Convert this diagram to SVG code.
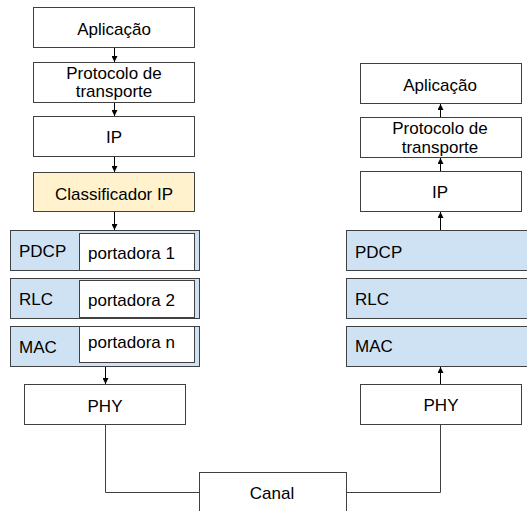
<svg xmlns="http://www.w3.org/2000/svg" width="527" height="511" viewBox="0 0 527 511">
<style>
.box{fill:#fff;stroke:#404040;stroke-width:1}
.blue{fill:#cfe2f3;stroke:#404040;stroke-width:1}
.yel{fill:#fff2cc;stroke:#404040;stroke-width:1}
text{font-family:"Liberation Sans",Arial,sans-serif;font-size:17px;fill:#000}
.c{text-anchor:middle}
.ln{fill:none;stroke:#000;stroke-width:1}
.ln2{fill:none;stroke:#404040;stroke-width:1}
</style>
<defs>
<marker id="ah" viewBox="0 0 8 8" refX="8" refY="4" markerWidth="6" markerHeight="6" markerUnits="userSpaceOnUse" orient="auto">
<path d="M0,0 L8,4 L0,8 z" fill="#000"/>
</marker>
</defs>
<rect width="527" height="511" fill="#fff"/>
<g id="l-app"><rect class="box" x="33.5" y="7.5" width="161" height="40"/><text class="c" x="114" y="35">Aplicação</text></g>
<g id="l-trans"><rect class="box" x="33.5" y="62.5" width="161" height="40"/><text class="c" x="114" y="78.5">Protocolo de</text><text class="c" x="114" y="96.5">transporte</text></g>
<g id="l-ip"><rect class="box" x="33.5" y="116.5" width="161" height="40"/><text class="c" x="114" y="143">IP</text></g>
<g id="l-class"><rect class="yel" x="33.5" y="172.5" width="161" height="39"/><text class="c" x="114" y="200">Classificador IP</text></g>
<g id="l-pdcp"><rect class="blue" x="10.5" y="230.5" width="189" height="40"/><rect class="box" x="79.5" y="233.5" width="115" height="37"/><text x="19" y="257">PDCP</text><text x="88" y="259">portadora 1</text></g>
<g id="l-rlc"><rect class="blue" x="10.5" y="278.5" width="189" height="40"/><rect class="box" x="79.5" y="280.5" width="115" height="37"/><text x="19" y="305">RLC</text><text x="88" y="306">portadora 2</text></g>
<g id="l-mac"><rect class="blue" x="10.5" y="326.5" width="189" height="40"/><rect class="box" x="79.5" y="326.5" width="115" height="36"/><text x="19" y="353">MAC</text><text x="88" y="348">portadora n</text></g>
<g id="l-phy"><rect class="box" x="24.5" y="384.5" width="161" height="40"/><text class="c" x="105" y="412">PHY</text></g>
<g id="canal"><rect class="box" x="199.5" y="472.5" width="147" height="45"/><text class="c" x="272" y="499">Canal</text></g>
<g id="r-app"><rect class="box" x="360.5" y="63.5" width="161" height="40"/><text class="c" x="440" y="91">Aplicação</text></g>
<g id="r-trans"><rect class="box" x="360.5" y="117.5" width="161" height="40"/><text class="c" x="440" y="134">Protocolo de</text><text class="c" x="440" y="152.5">transporte</text></g>
<g id="r-ip"><rect class="box" x="360.5" y="171.5" width="161" height="40"/><text class="c" x="440" y="198">IP</text></g>
<g id="r-pdcp"><rect class="blue" x="346.5" y="230.5" width="190" height="40"/><text x="355" y="258">PDCP</text></g>
<g id="r-rlc"><rect class="blue" x="346.5" y="278.5" width="190" height="40"/><text x="355" y="305">RLC</text></g>
<g id="r-mac"><rect class="blue" x="346.5" y="326.5" width="190" height="40"/><text x="355" y="352">MAC</text></g>
<g id="r-phy"><rect class="box" x="360.5" y="384.5" width="161" height="40"/><text class="c" x="441" y="411">PHY</text></g>
<g id="connectors">
<line class="ln" x1="114.5" y1="48" x2="114.5" y2="62" marker-end="url(#ah)"/>
<line class="ln" x1="114.5" y1="103" x2="114.5" y2="116" marker-end="url(#ah)"/>
<line class="ln" x1="114.5" y1="157" x2="114.5" y2="172" marker-end="url(#ah)"/>
<line class="ln" x1="114.5" y1="212" x2="114.5" y2="230" marker-end="url(#ah)"/>
<line class="ln" x1="105.5" y1="367" x2="105.5" y2="384" marker-end="url(#ah)"/>
<polyline class="ln2" points="105.5,425 105.5,492.5 199.5,492.5"/>
<polyline class="ln2" points="346.5,492.5 440.5,492.5 440.5,425"/>
<line class="ln" x1="440.5" y1="384" x2="440.5" y2="367" marker-end="url(#ah)"/>
<line class="ln" x1="440.5" y1="230" x2="440.5" y2="212" marker-end="url(#ah)"/>
<line class="ln" x1="440.5" y1="171" x2="440.5" y2="158" marker-end="url(#ah)"/>
<line class="ln" x1="440.5" y1="117" x2="440.5" y2="104" marker-end="url(#ah)"/>
</g>
</svg>
